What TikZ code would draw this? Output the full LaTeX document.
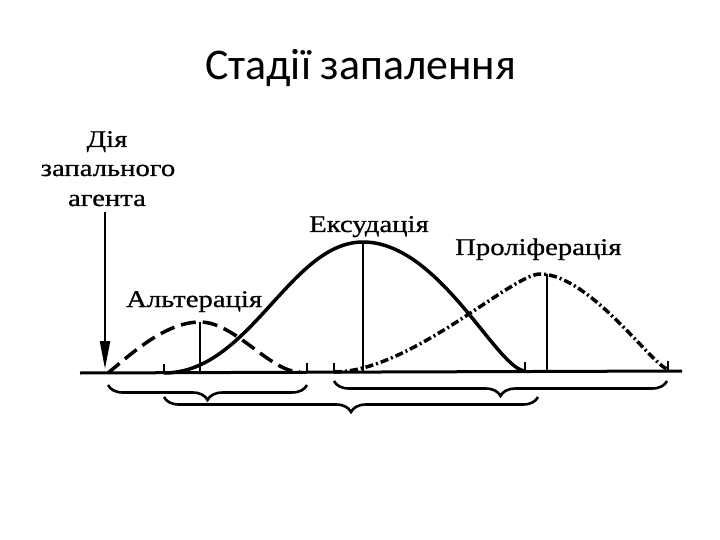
\documentclass[tikz,border=0pt]{standalone}
\usepackage{fontspec}
\setmainfont{Liberation Serif}
\newfontfamily\titlefont{Carlito}
\newfontfamily\labelfont[FakeStretch=1.2,FakeBold=0.8]{Liberation Serif}
\usetikzlibrary{arrows.meta,decorations.pathreplacing}
\begin{document}
\begin{tikzpicture}[x=1bp,y=-1bp,
  lbl/.style={font=\labelfont\fontsize{24}{30}\selectfont, inner sep=0pt, anchor=base west},
  agentlbl/.style={font=\labelfont\fontsize{24}{30}\selectfont, inner sep=0pt, anchor=base},
  curve/.style={line width=3.5bp, line join=round},
  altcurve/.style={curve, dash pattern=on 15bp off 7bp},
  prolcurve/.style={curve, dash pattern=on 8bp off 3bp on 2bp off 3bp},
  peakline/.style={line width=2.2bp},
  tickmark/.style={line width=2bp},
  bracket/.style={decorate, decoration={brace, mirror, amplitude=15bp}, line width=2.6bp},
  axisline/.style={line width=3bp}]
\useasboundingbox (0,0) rectangle (720,540);
\fill[white] (0,0) rectangle (720,540);

% title
\node[font=\titlefont\fontsize{44}{52}\selectfont, inner sep=0pt, anchor=base west] (title) at (205,80) {Стадії запалення};

% agent label and arrow
\node[agentlbl] (agent1) at (107,147) {Дія};
\node[agentlbl] (agent2) at (108,176) {запального};
\node[agentlbl] (agent3) at (107,206) {агента};
\coordinate (arrowtop) at (105,212);
\coordinate (arrowtip) at (105,369);
\draw[line width=2.2bp, -{Triangle[length=28bp,width=10bp]}] (arrowtop) -- (arrowtip);

% axis
\coordinate (axL) at (80,373);
\coordinate (axR) at (682,371);
\draw[axisline] (axL) -- (axR);

% ticks
\foreach \tx/\ty in {164/373, 307/372, 334/372, 525/371, 668/370}
  \draw[tickmark] (\tx,\ty) -- (\tx,\ty-9);

% peak lines
\coordinate (altpeak) at (200,322);
\coordinate (altfoot) at (200,373);
\coordinate (exopeak) at (363,242);
\coordinate (exofoot) at (363,372);
\coordinate (prolpeak) at (547,274);
\coordinate (prolfoot) at (547,371);
\draw[peakline] (altpeak) -- (altfoot);
\draw[peakline] (exopeak) -- (exofoot);
\draw[peakline] (prolpeak) -- (prolfoot);

% curve end points
\coordinate (altstart) at (108,373);
\coordinate (altend) at (300,372);
\coordinate (exostart) at (164,373);
\coordinate (exoend) at (526,371);
\coordinate (prolstart) at (334,372);
\coordinate (prolend) at (668,369);
\coordinate (prolpk) at (540,274);

% alteration (dashed)
\draw[altcurve] (altstart) .. controls (130,355) and (165,322) .. (altpeak)
  .. controls (235,322) and (270,372) .. (altend);

% exudation (solid)
\draw[curve] (exostart) .. controls (250,373) and (290,242) .. (exopeak)
  .. controls (440,242) and (498,372) .. (exoend);

% proliferation (dash-dot)
\draw[prolcurve] (prolstart) .. controls (410,372) and (512,274) .. (prolpk)
  .. controls (590,274) and (655,369) .. (prolend);

% labels
\node[lbl] (alt) at (126,307) {Альтерація};
\node[lbl] (exo) at (309,232) {Ексудація};
\node[lbl] (prol) at (455,255) {Проліферація};

% braces
\coordinate (b1a) at (108,385);
\coordinate (b1b) at (307,385);
\coordinate (b2a) at (334,381);
\coordinate (b2b) at (667,381);
\coordinate (b3a) at (164,397);
\coordinate (b3b) at (538,397);
\draw[bracket] (b1a) -- (b1b);
\draw[bracket] (b2a) -- (b2b);
\draw[bracket] (b3a) -- (b3b);
\end{tikzpicture}
\end{document}
